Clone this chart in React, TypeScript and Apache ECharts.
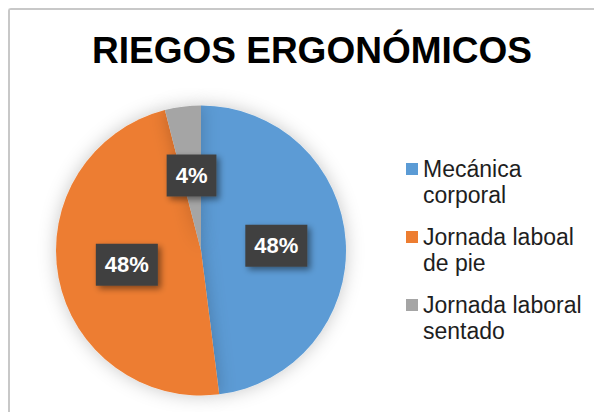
import React, { useEffect, useRef } from "react";
import * as echarts from "echarts";

const titleText = "RIEGOS ERGONÓMICOS";
const categories = ["Mecánica\ncorporal", "Jornada laboal\nde pie", "Jornada laboral\nsentado"];
const values = [12, 12, 1];
const colors = ["#5B9BD5", "#ED7D31", "#A5A5A5"];

export default function App() {
  const ref = useRef<HTMLDivElement>(null);
  useEffect(() => {
    if (!ref.current) return;
    const chart = echarts.init(ref.current, null, { renderer: "svg" });
    const rich: Record<string, any> = {
      t: {
        fontFamily: "Liberation Sans, Arial, sans-serif",
        fontSize: 23,
        lineHeight: 26,
        color: "#1e1e1e",
        verticalAlign: "middle",
      },
      g: { width: 17, height: 12 },
      p: { width: 5, height: 12 },
    };
    colors.forEach((c, i) => {
      rich["s" + i] = { width: 12, height: 12, backgroundColor: c, verticalAlign: "middle" };
    });
    chart.setOption({
      animation: false,
      backgroundColor: "#ffffff",
      title: {
        text: titleText,
        left: 82,
        top: 22,
        padding: 0,
        textStyle: {
          fontFamily: "Liberation Sans, Arial, sans-serif",
          fontSize: 37,
          fontWeight: "bold",
          color: "#000000",
        },
      },
      legend: {
        orient: "vertical",
        left: 391,
        top: 146,
        padding: 0,
        itemWidth: 0,
        itemHeight: 12,
        itemGap: 16,
        icon: "none",
        selectedMode: false,
        formatter: (name: string) => {
          const i = categories.indexOf(name);
          const lines = name.split("\n");
          return `{s${i}|}{p|}{t|${lines[0]}}\n{g|}{t|${lines[1]}}`;
        },
        textStyle: {
          fontFamily: "Liberation Sans, Arial, sans-serif",
          fontSize: 23,
          lineHeight: 26,
          color: "#1e1e1e",
          rich,
        },
        data: categories,
      },
      series: [
        {
          type: "pie",
          center: [191, 240.5],
          radius: 145,
          startAngle: 90,
          clockwise: true,
          silent: true,
          data: categories.map((c, i) => ({
            name: c,
            value: values[i],
            itemStyle: { color: colors[i] },
          })),
          itemStyle: {
            borderWidth: 0,
            shadowBlur: 18,
            shadowColor: "rgba(0,0,0,0.22)",
          },
          label: {
            show: true,
            position: "inside",
            formatter: (p: any) => `${Math.round(p.percent)}%`,
            color: "#ffffff",
            fontFamily: "Liberation Sans, Arial, sans-serif",
            fontWeight: "bold",
            fontSize: 22,
            lineHeight: 22,
            backgroundColor: "#404040",
            padding: [10, 9, 10, 9],
            shadowColor: "rgba(0,0,0,0.45)",
            shadowBlur: 6,
            shadowOffsetX: 3,
            shadowOffsetY: 3,
          },
          labelLine: { show: false },
        },
      ],
    });
    return () => chart.dispose();
  }, []);
  return (
    <div
      ref={ref}
      style={{
        width: 586,
        height: 404,
        boxSizing: "border-box",
        borderTop: "2px solid #c8c8c8",
        borderLeft: "2px solid #c8c8c8",
        borderTopLeftRadius: 3,
      }}
    />
  );
}
